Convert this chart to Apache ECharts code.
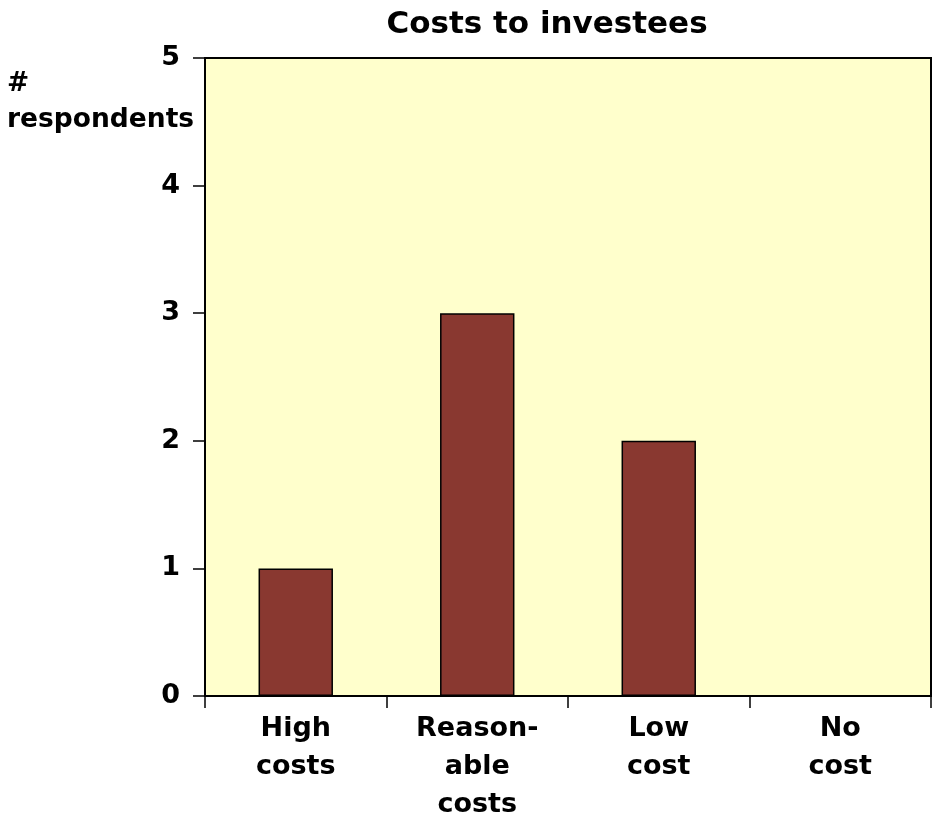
<!DOCTYPE html>
<html><head><meta charset="utf-8">
<script src="https://cdn.jsdelivr.net/npm/echarts@6/dist/echarts.min.js"></script>
<style>html,body{margin:0;padding:0;background:#fff}#c{width:934px;height:819px}</style>
</head><body><div id="c"></div>
<script>
const categories = ["High\ncosts", "Reason-\nable\ncosts", "Low\ncost", "No\ncost"];
const values = [1, 3, 2, 0];
const yTicks = [0, 1, 2, 3, 4, 5];
const titleText = "Costs to investees";
const yAxisTitle = "#\nrespondents";

const font = "'DejaVu Sans', sans-serif";
const chart = echarts.init(document.getElementById('c'));
chart.setOption({
  animation: false,
  backgroundColor: '#ffffff',
  title: {
    text: titleText, left: 542, top: 4, textAlign: 'center',
    textStyle: {fontFamily: font, fontWeight: 'bold', fontSize: 31, color: '#000'}
  },
  graphic: [{
    type: 'text', left: 7, top: 66,
    style: {text: yAxisTitle, fontFamily: font, fontWeight: 'bold', fontSize: 26.5, fill: '#000', lineHeight: 36}
  }],
  grid: {left: 205, top: 58, right: 3, bottom: 123, outerBoundsMode: 'none', containLabel: false,
    show: true, backgroundColor: '#FFFFCC', borderColor: '#000', borderWidth: 2},
  xAxis: {
    type: 'category', data: categories,
    axisLine: {lineStyle: {color: '#000', width: 2}},
    axisTick: {show: true, length: 12, lineStyle: {color: '#000', width: 1.5}, alignWithLabel: false},
    axisLabel: {fontFamily: font, fontWeight: 'bold', fontSize: 27, color: '#000', lineHeight: 38, margin: 14, interval: 0}
  },
  yAxis: {
    type: 'value', min: 0, max: 5, interval: 1,
    splitLine: {show: false},
    axisLine: {show: true, lineStyle: {color: '#000', width: 2}},
    axisTick: {show: true, length: 12, lineStyle: {color: '#000', width: 1.5}},
    axisLabel: {fontFamily: font, fontWeight: 'bold', fontSize: 27, color: '#000', margin: 25,
      formatter: v => yTicks.includes(v) ? String(v) : ''}
  },
  series: [{
    type: 'bar', data: values, barWidth: '41%',
    itemStyle: {color: '#893830', borderColor: '#000', borderWidth: 1.5}
  }]
});
</script></body></html>
